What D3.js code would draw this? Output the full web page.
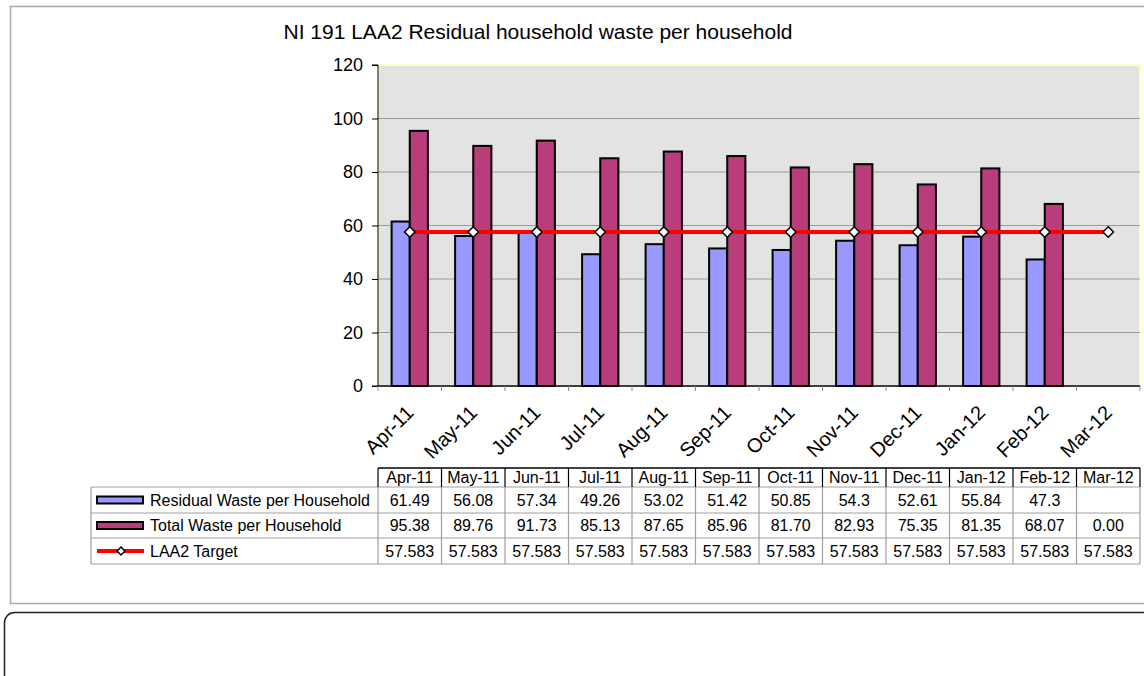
<!DOCTYPE html>
<html lang="en">
<head>
    <meta charset="UTF-8">
    <title>NI 191 LAA2 Residual household waste per household</title>
    <script src="https://d3js.org/d3.v7.min.js"></script>
    <style>
        body{
            margin: 0;
            background: white;
        }
        #canvas text{
            font-family: "Liberation Sans", Arial, sans-serif;
            fill: black;
        }
    </style>
</head>
<body>
    <svg id="canvas" width="1144" height="676"></svg>
    <script>
        // data
        let months = ["Apr-11","May-11","Jun-11","Jul-11","Aug-11","Sep-11","Oct-11","Nov-11","Dec-11","Jan-12","Feb-12","Mar-12"]
        let residual = [61.49, 56.08, 57.34, 49.26, 53.02, 51.42, 50.85, 54.3, 52.61, 55.84, 47.3, null]
        let total = [95.38, 89.76, 91.73, 85.13, 87.65, 85.96, 81.70, 82.93, 75.35, 81.35, 68.07, 0.00]
        let target = [57.583, 57.583, 57.583, 57.583, 57.583, 57.583, 57.583, 57.583, 57.583, 57.583, 57.583, 57.583]
        let yTicks = [0, 20, 40, 60, 80, 100, 120]
        let seriesNames = ["Residual Waste per Household", "Total Waste per Household", "LAA2 Target"]

        let svg = d3.select('#canvas')
        let plot = {left: 378, right: 1140, top: 65, bottom: 386}

        // outer chart frame + the rounded box below it
        svg.append("rect").attr("x",10.5).attr("y",6.5).attr("width",1150).attr("height",597)
            .attr("fill","white").attr("stroke","#a8a8a8").attr("stroke-width",1.5)
        svg.append("rect").attr("x",4.5).attr("y",612.5).attr("width",1160).attr("height",100)
            .attr("rx",10).attr("fill","white").attr("stroke","#222").attr("stroke-width",1.5)

        let xscale = d3.scaleBand().domain(months).range([plot.left, plot.right])
        let groupW = xscale.bandwidth() * 2 / 3.5
        let inner = d3.scaleBand().domain([0,1]).range([0, groupW])
        let yscale = d3.scaleLinear().domain([0,120]).range([plot.bottom, plot.top])

        // plot area
        svg.append("rect").attr("x",plot.left).attr("y",plot.top)
            .attr("width",plot.right-plot.left).attr("height",plot.bottom-plot.top)
            .attr("fill","#e3e3e3").attr("stroke","#ffffc8").attr("stroke-width",2)

        svg.append("g").selectAll("line").data(yTicks.filter(d => d > 0 && d < 120)).enter()
            .append("line")
            .attr("x1",plot.left).attr("x2",plot.right)
            .attr("y1",d => yscale(d)).attr("y2",d => yscale(d))
            .attr("stroke","#9a9a9a").attr("stroke-width",1)

        // y axis
        let yAxis = svg.append("g").attr("transform",`translate(${plot.left},0)`)
            .call(d3.axisLeft(yscale).tickValues(yTicks).tickSize(6).tickPadding(9))
        yAxis.selectAll("path,line").attr("stroke","black")
        yAxis.selectAll("text").attr("font-size","18px").attr("font-family","Liberation Sans, Arial")
        yAxis.select(".domain").attr("d",`M-6,${plot.top}H0V${plot.bottom}H-6`)

        // x axis (ticks on category boundaries)
        let xAxisG = svg.append("g")
        xAxisG.append("line").attr("x1",plot.left).attr("x2",plot.right)
            .attr("y1",plot.bottom).attr("y2",plot.bottom).attr("stroke","black").attr("stroke-width",1.5)
        xAxisG.selectAll(".tk").data(months.concat(["end"])).enter().append("line")
            .attr("x1",(d,i) => plot.left + i * xscale.bandwidth())
            .attr("x2",(d,i) => plot.left + i * xscale.bandwidth())
            .attr("y1",plot.bottom).attr("y2",plot.bottom + 5)
            .attr("stroke","#888")
        xAxisG.selectAll("text").data(months).enter().append("text")
            .attr("transform",d => `translate(${xscale(d) + xscale.bandwidth()/2 + 5},${plot.bottom + 28}) rotate(-45)`)
            .attr("text-anchor","end")
            .attr("font-size","20px")
            .text(d => d)

        // bars
        let bars = svg.append("g")
        let gap = (xscale.bandwidth() - groupW) / 2
        bars.selectAll(".res").data(months.map((m,i) => ({m:m, v:residual[i]})).filter(d => d.v)).enter()
            .append("rect")
            .attr("x",d => xscale(d.m) + gap + inner(0))
            .attr("y",d => yscale(d.v))
            .attr("width",inner.bandwidth())
            .attr("height",d => plot.bottom - yscale(d.v))
            .attr("fill","#9999ff").attr("stroke","black").attr("stroke-width",2)
        bars.selectAll(".tot").data(months.map((m,i) => ({m:m, v:total[i]})).filter(d => d.v)).enter()
            .append("rect")
            .attr("x",d => xscale(d.m) + gap + inner(1))
            .attr("y",d => yscale(d.v))
            .attr("width",inner.bandwidth())
            .attr("height",d => plot.bottom - yscale(d.v))
            .attr("fill","#b93c7b").attr("stroke","black").attr("stroke-width",2)

        // target line
        let lineGen = d3.line().x((d,i) => xscale(months[i]) + xscale.bandwidth()/2).y(d => yscale(d))
        svg.append("path").attr("d",lineGen(target)).attr("fill","none")
            .attr("stroke","#ff0000").attr("stroke-width",4)
        let diamond = d3.symbol().type(d3.symbolDiamond2).size(70)
        svg.append("g").selectAll("path").data(target).enter().append("path")
            .attr("d",diamond)
            .attr("transform",(d,i) => `translate(${xscale(months[i]) + xscale.bandwidth()/2},${yscale(d)})`)
            .attr("fill","white").attr("stroke","black").attr("stroke-width",1.5)

        // title
        svg.append("text").attr("x",538).attr("y",39).attr("text-anchor","middle")
            .attr("font-size","21px").text("NI 191 LAA2 Residual household waste per household")

        // data table
        let rowY = [468, 487, 513, 538, 564]
        let tableLeft = 91
        let table = svg.append("g")
        // horizontal lines
        table.append("line").attr("x1",plot.left).attr("x2",plot.right).attr("y1",rowY[0]).attr("y2",rowY[0])
            .attr("stroke","black").attr("stroke-width",1.5)
        rowY.slice(1).forEach(function (y){
            table.append("line").attr("x1",tableLeft).attr("x2",plot.right).attr("y1",y).attr("y2",y)
                .attr("stroke","#a0a0a0").attr("stroke-width",1.2)
        })
        // vertical lines
        table.append("line").attr("x1",tableLeft).attr("x2",tableLeft).attr("y1",rowY[1]).attr("y2",rowY[4])
            .attr("stroke","#a0a0a0").attr("stroke-width",1.2)
        months.concat(["end"]).forEach(function (m,i){
            let x = plot.left + i * xscale.bandwidth()
            table.append("line").attr("x1",x).attr("x2",x).attr("y1",rowY[0]).attr("y2",rowY[1])
                .attr("stroke","black").attr("stroke-width",1.2)
            table.append("line").attr("x1",x).attr("x2",x).attr("y1",rowY[1]).attr("y2",rowY[4])
                .attr("stroke","#a0a0a0").attr("stroke-width",1.2)
        })
        let rows = [
            months,
            residual.map(d => d == null ? "" : String(d)),
            total.map(d => d3.format(".2f")(d)),
            target.map(d => d3.format(".3f")(d))
        ]
        rows.forEach(function (row,r){
            table.selectAll(".r"+r).data(row).enter().append("text")
                .attr("x",(d,i) => xscale(months[i]) + xscale.bandwidth()/2)
                .attr("y",(rowY[r] + rowY[r+1]) / 2)
                .attr("dy","0.36em")
                .attr("text-anchor","middle")
                .attr("font-size","16px")
                .text(d => d)
        })
        // legend keys in the table
        seriesNames.forEach(function (name,i){
            let cy = (rowY[i+1] + rowY[i+2]) / 2
            if (i < 2){
                table.append("rect").attr("x",97).attr("y",cy - 3.5).attr("width",46).attr("height",7)
                    .attr("fill",i == 0 ? "#9999ff" : "#b93c7b").attr("stroke","black").attr("stroke-width",2)
            } else {
                table.append("line").attr("x1",97).attr("x2",144).attr("y1",cy).attr("y2",cy)
                    .attr("stroke","#ff0000").attr("stroke-width",4)
                table.append("path").attr("d",d3.symbol().type(d3.symbolDiamond2).size(40))
                    .attr("transform",`translate(121,${cy})`)
                    .attr("fill","white").attr("stroke","black").attr("stroke-width",1.5)
            }
            table.append("text").attr("x",150).attr("y",cy).attr("dy","0.36em")
                .attr("font-size","16px").text(name)
        })
    </script>
</body>
</html>
